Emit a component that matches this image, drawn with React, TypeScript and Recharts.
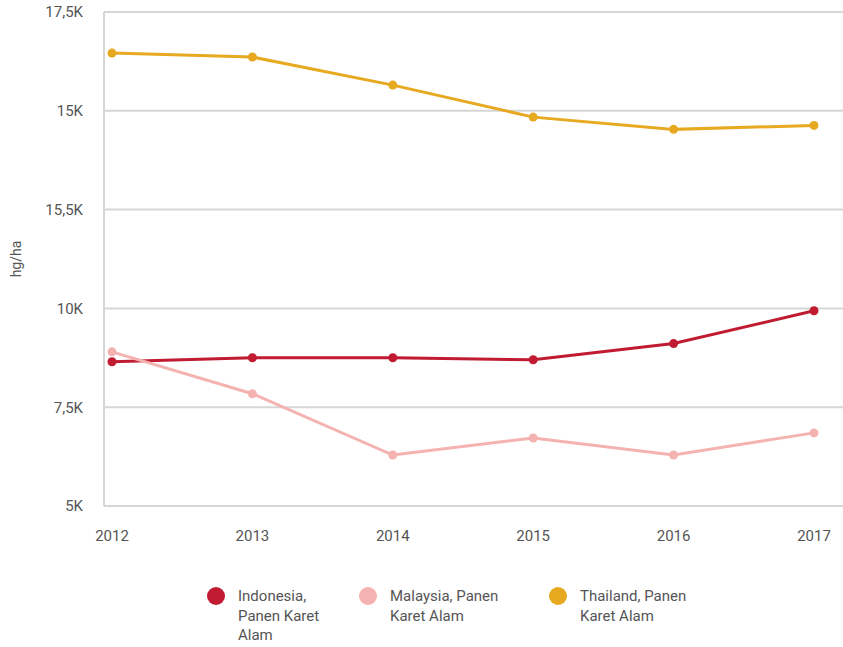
import { LineChart, Line, XAxis, YAxis, CartesianGrid, Legend } from 'recharts';

const years = ['2012', '2013', '2014', '2015', '2016', '2017'];
const indonesia = [8650, 8750, 8750, 8700, 9110, 9940];
const malaysia = [8900, 7840, 6290, 6720, 6290, 6850];
const thailand = [16460, 16360, 15650, 14840, 14530, 14630];

const yTicks = [5000, 7500, 10000, 12500, 15000, 17500];
const yTickLabels = ['5K', '7,5K', '10K', '15,5K', '15K', '17,5K'];

const seriesNames = ['Indonesia, Panen Karet Alam', 'Malaysia, Panen Karet Alam', 'Thailand, Panen Karet Alam'];
const legendLines = [
  ['Indonesia,', 'Panen Karet', 'Alam'],
  ['Malaysia, Panen', 'Karet Alam'],
  ['Thailand, Panen', 'Karet Alam'],
];
const COLORS = ['#c11b32', '#f4b3b0', '#e6a920'];

const FONT = 'Roboto, "Noto Sans", sans-serif';
const TEXT = '#555555';
const GRID = '#d6d6d6';

const chartData = years.map((year, i) => ({
  year,
  indonesia: indonesia[i],
  malaysia: malaysia[i],
  thailand: thailand[i],
}));

const itemLefts = [207, 359, 549];

function ChartLegend() {
  return (
    <div style={{ position: 'relative', height: 80, fontFamily: FONT, fontSize: 15, color: TEXT }}>
      {seriesNames.map((name, i) => (
        <div
          key={name}
          style={{ position: 'absolute', left: itemLefts[i], top: 51, display: 'flex', alignItems: 'flex-start' }}
        >
          <span
            style={{
              width: 18,
              height: 18,
              borderRadius: 9,
              background: COLORS[i],
              marginTop: 0,
              marginRight: 13,
              flex: 'none',
            }}
          />
          <div style={{ lineHeight: '19.5px', textAlign: 'left', whiteSpace: 'nowrap' }}>
            {legendLines[i].map((line) => (
              <div key={line}>{line}</div>
            ))}
          </div>
        </div>
      ))}
    </div>
  );
}

export default function App() {
  return (
    <div style={{ position: 'absolute', left: 0, top: 0, background: '#fff' }}>
      <LineChart
        width={843}
        height={647}
        data={chartData}
        margin={{ top: 12, right: 0, left: 0, bottom: 31 }}
      >
        <CartesianGrid vertical={false} stroke={GRID} strokeWidth={2} />
        <XAxis
          dataKey="year"
          padding={{ left: 8, right: 29 }}
          tickLine={false}
          axisLine={{ stroke: GRID, strokeWidth: 2 }}
          tickSize={0}
          tickMargin={24}
          height={30}
          tick={{ fill: TEXT, fontSize: 15, fontFamily: FONT }}
        />
        <YAxis
          width={104}
          domain={[5000, 17500]}
          ticks={yTicks}
          tickFormatter={(v: number) => yTickLabels[yTicks.indexOf(v)] ?? ''}
          tickLine={false}
          axisLine={{ stroke: GRID, strokeWidth: 2 }}
          tickSize={0}
          tickMargin={21}
          tick={{ fill: TEXT, fontSize: 15, fontFamily: FONT }}
          label={{
            value: 'hg/ha',
            angle: -90,
            position: 'insideLeft',
            offset: 16,
            style: { textAnchor: 'middle', fill: TEXT, fontSize: 14, fontFamily: FONT },
          }}
        />
        <Legend verticalAlign="bottom" height={80} content={() => <ChartLegend />} />
        <Line
          dataKey="indonesia"
          name={seriesNames[0]}
          stroke={COLORS[0]}
          strokeWidth={3}
          dot={{ r: 4.5, fill: COLORS[0], stroke: COLORS[0], strokeWidth: 0 }}
          isAnimationActive={false}
        />
        <Line
          dataKey="malaysia"
          name={seriesNames[1]}
          stroke={COLORS[1]}
          strokeWidth={3}
          dot={{ r: 4.5, fill: COLORS[1], stroke: COLORS[1], strokeWidth: 0 }}
          isAnimationActive={false}
        />
        <Line
          dataKey="thailand"
          name={seriesNames[2]}
          stroke={COLORS[2]}
          strokeWidth={3}
          dot={{ r: 4.5, fill: COLORS[2], stroke: COLORS[2], strokeWidth: 0 }}
          isAnimationActive={false}
        />
      </LineChart>
    </div>
  );
}
